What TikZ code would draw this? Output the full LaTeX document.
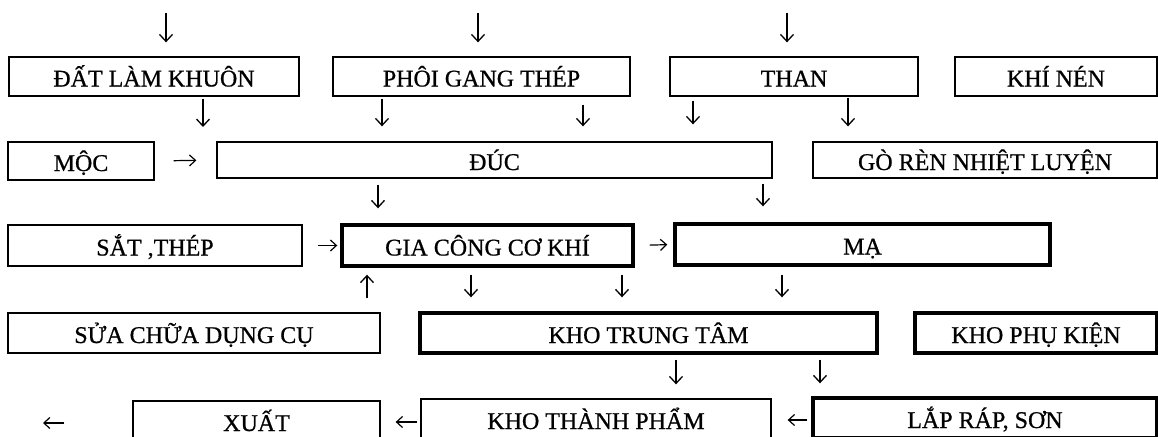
\documentclass[tikz,border=0pt]{standalone}
\usepackage{fontspec}
\setmainfont{Liberation Serif}[BoldFont=Liberation Serif, BoldFeatures={FakeBold=0.7}]
\usetikzlibrary{arrows.meta}
\begin{document}
\begin{tikzpicture}[x=1pt,y=-1pt,
  box/.style={draw, line width=1.3pt, inner sep=0pt, font=\fontsize{24}{28}\selectfont\bfseries, text height=20pt, text depth=0pt},
  heavybox/.style={box, line width=3.4pt},
  varr/.style={line width=1.3pt, -{Straight Barb[length=7pt,width=13pt,line width=1.3pt]}},
  harr/.style={line width=1.2pt, -{Straight Barb[length=6pt,width=11pt,line width=1.2pt]}}]
\useasboundingbox (0,0) rectangle (1158,436);
\clip (0,0) rectangle (1158,436);
% row 1
\node[box, minimum width=290pt, minimum height=39pt] (dat) at (154,76.5) {ĐẤT LÀM KHUÔN};
\node[box, minimum width=297pt, minimum height=39pt] (phoi) at (481.5,76.5) {PHÔI GANG THÉP};
\node[box, minimum width=248pt, minimum height=39pt] (than) at (794,76.5) {THAN};
\node[box, minimum width=202pt, minimum height=39pt] (khi) at (1056,76.5) {KHÍ NÉN};
% row 2
\node[box, minimum width=146pt, minimum height=38pt] (moc) at (81,161) {MỘC};
\node[box, minimum width=555pt, minimum height=36pt] (duc) at (494.5,160) {ĐÚC};
\node[box, minimum width=344pt, minimum height=36pt] (gon) at (985,160) {GÒ RÈN NHIỆT LUYỆN};
% row 3
\node[box, minimum width=294pt, minimum height=41pt] (sat) at (155,245.5) {SẮT ,THÉP};
\node[heavybox, minimum width=291pt, minimum height=41pt] (gia) at (487.5,245.5) {GIA CÔNG CƠ KHÍ};
\node[heavybox, minimum width=375pt, minimum height=41pt] (ma) at (862.5,244.5) {MẠ};
% row 4
\node[box, minimum width=372pt, minimum height=40pt] (sua) at (194,333) {SỬA CHỮA DỤNG CỤ};
\node[heavybox, minimum width=457pt, minimum height=40pt] (ktt) at (648.5,333) {KHO TRUNG TÂM};
\node[heavybox, minimum width=242pt, minimum height=40pt] (kpk) at (1036,333) {KHO PHỤ KIỆN};
% row 5
\node[box, minimum width=247pt, minimum height=40pt] (xuat) at (256.5,421) {XUẤT};
\node[box, minimum width=350pt, minimum height=40pt] (ktp) at (596,419) {KHO THÀNH PHẨM};
\node[heavybox, minimum width=344pt, minimum height=40pt] (lap) at (985,418) {LẮP RÁP, SƠN};
% top arrows
\coordinate (t1) at (166,13);
\coordinate (t2) at (478,13);
\coordinate (t3) at (787,13);
\draw[varr, shorten >=14pt] (t1) -- (dat.north -| t1);
\draw[varr, shorten >=14pt] (t2) -- (phoi.north -| t2);
\draw[varr, shorten >=14pt] (t3) -- (than.north -| t3);
% row 1 -> row 2
\coordinate (e1) at (203,127);
\draw[varr, shorten <=2pt] (dat.south -| e1) -- (e1);
\draw[varr, shorten <=2pt, shorten >=15pt] (phoi.south -| 382,0) -- (duc.north -| 382,0);
\draw[varr, shorten <=8pt, shorten >=15pt] (phoi.south -| 583,0) -- (duc.north -| 583,0);
\draw[varr, shorten <=4pt, shorten >=17pt] (than.south -| 693,0) -- (duc.north -| 693,0);
\draw[varr, shorten <=1pt, shorten >=15pt] (than.south -| 848,0) -- (gon.north -| 848,0);
% row 2
\draw[harr, shorten <=19pt, shorten >=20pt] (moc.east) -- (duc.west);
% row 2 -> row 3
\draw[varr, shorten <=6pt, shorten >=15pt] (duc.south -| 378,0) -- (gia.north -| 378,0);
\draw[varr, shorten <=5pt, shorten >=16pt] (duc.south -| 763,0) -- (ma.north -| 763,0);
% row 3
\draw[harr, shorten <=15pt, shorten >=3pt] (sat.east) -- (gia.west);
\draw[harr, shorten <=15pt, shorten >=6pt] (gia.east) -- (ma.west);
% row 3 <-> row 4
\draw[varr, shorten <=14pt, shorten >=7pt] (sua.north -| 367,0) -- (gia.south -| 367,0);
\draw[varr, shorten <=7pt, shorten >=14pt] (gia.south -| 471,0) -- (ktt.north -| 471,0);
\draw[varr, shorten <=7pt, shorten >=14pt] (gia.south -| 622,0) -- (ktt.north -| 622,0);
\draw[varr, shorten <=8pt, shorten >=14pt] (ma.south -| 782,0) -- (ktt.north -| 782,0);
% row 4 -> row 5
\draw[varr, shorten <=5pt, shorten >=14pt] (ktt.south -| 676,0) -- (ktp.north -| 676,0);
\draw[varr, shorten <=5pt, shorten >=13pt] (ktt.south -| 820,0) -- (lap.north -| 820,0);
% row 5
\coordinate (o1) at (43,423);
\draw[harr, shorten <=68pt] (xuat.west |- o1) -- (o1);
\draw[harr, shorten <=3pt, shorten >=15pt] (ktp.west |- 0,422) -- (xuat.east |- 0,422);
\draw[harr, shorten <=4pt, shorten >=16pt] (lap.west |- 0,420) -- (ktp.east |- 0,420);
\end{tikzpicture}
\end{document}
